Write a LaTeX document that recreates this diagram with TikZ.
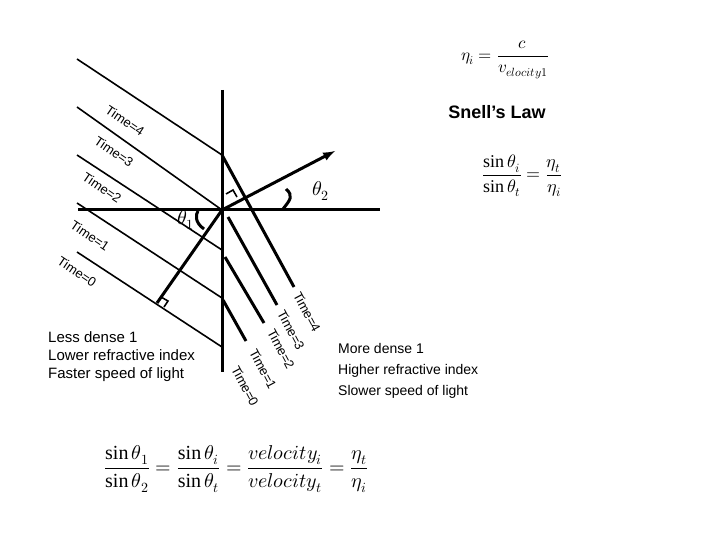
\documentclass[tikz,border=0pt]{standalone}
\usepackage{amsmath}
\usepackage{fontspec}
\setmainfont{Liberation Sans}
\newfontfamily\serif{Liberation Serif}
\usepackage{unicode-math}
\setmathfont{Latin Modern Math}
\newcommand{\ssin}{\mathop{\text{\serif sin}}\nolimits}
\begin{document}
\begin{tikzpicture}[x=1pt,y=-1pt,
  thin/.style={line width=1.6pt},
  thick/.style={line width=3pt},
  lab/.style={font=\fontsize{13}{13}\selectfont,inner sep=0pt},
  txt/.style={font=\fontsize{15}{18}\selectfont,align=left,anchor=north west,inner sep=0pt}]
\useasboundingbox (0,0) rectangle (720,540);
% axes
\coordinate (O) at (222,210);
\draw[thick] (222,90) -- (222,372);
\draw[thick] (78,210) -- (380,210);
% incident wavefronts
\coordinate (a4) at (222,155);
\coordinate (a2) at (222,250);
\coordinate (a1) at (222,298);
\coordinate (a0) at (222,347);
\draw[thin] (77,59) -- (a4);
\draw[thin] (77,107) -- (O);
\draw[thin] (77,155) -- (a2);
\draw[thin] (77,203) -- (a1);
\draw[thin] (77,252) -- (a0);
% refracted wavefronts
\draw[thick] (a4) -- (294,287);
\draw[thick] (228,217) -- (277,305);
\draw[thick] (225,257) -- (264,323);
\draw[thick] (223,300) -- (246,341);
% ray
\coordinate (r0) at (157,303);
\draw[thick] (r0) -- (O);
\draw[thin] (161,297) -- (168,301) -- (164,307);
\draw[thick,-latex] (O) -- (335,151);
\draw[thin] (226,194) -- (233,190) -- (237,197);
% angle marks
\draw[thick] (204,229) .. controls (194,222) and (196,214) .. (198,211);
\node (t1) at (186,220) {\fontsize{20}{20}\selectfont$\theta_1$};
\draw[thick] (283,209) .. controls (290,200) and (294,196) .. (286,189);
\node (t2) at (321,191) {\fontsize{20}{20}\selectfont$\theta_2$};
% incident labels
\foreach \n/\x/\y in {4/125/121,3/114/152,2/102/188,1/90/236,0/77/272}
  \node[lab,rotate=-34] (i\n) at (\x,\y) {Time=\n};
% refracted labels
\foreach \n/\x/\y in {4/307/312,3/291/330,2/281/349,1/263/369,0/245/386}
  \node[lab,rotate=-62] (o\n) at (\x,\y) {Time=\n};
% texts
\node[txt] (ld) at (48,331) {Less dense 1\\Lower refractive index\\Faster speed of light};
\node[txt,font=\fontsize{14}{21}\selectfont] (md) at (338,343) {More dense 1\\Higher refractive index\\Slower speed of light};
\node[font=\bfseries\fontsize{18}{18}\selectfont] (sl) at (497,112) {Snell’s Law};
\node (f1) at (505,60) {\fontsize{17}{17}\selectfont$\eta_i=\dfrac{c}{v_{elocity1}}$};
\node (f2) at (522,176) {\fontsize{18}{18}\selectfont$\dfrac{\ssin\theta_i}{\ssin\theta_t}=\dfrac{\eta_t}{\eta_i}$};
\node (f3) at (236,469) {\fontsize{20}{20}\selectfont$\dfrac{\ssin\theta_1}{\ssin\theta_2}=\dfrac{\ssin\theta_i}{\ssin\theta_t}=\dfrac{velocity_i}{velocity_t}=\dfrac{\eta_t}{\eta_i}$};
\end{tikzpicture}
\end{document}
